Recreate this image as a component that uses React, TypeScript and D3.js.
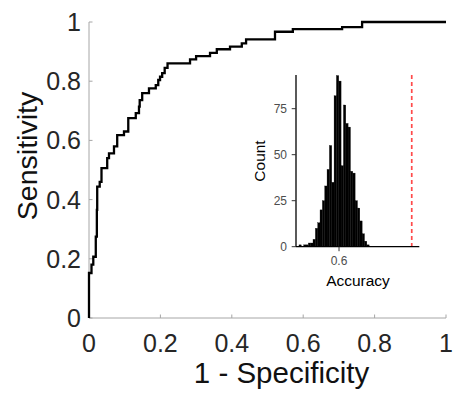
import React from 'react';
import * as d3 from 'd3';

// ROC curve operating points (1 - specificity, sensitivity)
const rocFpr = [0, 0.007, 0.012, 0.019, 0.022, 0.023, 0.030, 0.035, 0.051, 0.056, 0.070, 0.079, 0.098, 0.110, 0.131, 0.140, 0.142, 0.149, 0.168, 0.187, 0.194, 0.199, 0.205, 0.212, 0.220, 0.283, 0.300, 0.339, 0.358, 0.395, 0.428, 0.440, 0.521, 0.571, 0.709, 0.765, 1.0];
const rocTpr = [0, 0.152, 0.18, 0.207, 0.275, 0.365, 0.444, 0.46, 0.506, 0.54, 0.556, 0.58, 0.618, 0.63, 0.675, 0.692, 0.714, 0.736, 0.76, 0.776, 0.787, 0.804, 0.815, 0.827, 0.845, 0.86, 0.874, 0.885, 0.896, 0.908, 0.917, 0.928, 0.941, 0.967, 0.976, 0.983, 1.0];

const mainTicks = [0, 0.2, 0.4, 0.6, 0.8, 1];
const mainTickLabels = ['0', '0.2', '0.4', '0.6', '0.8', '1'];

// Inset histogram (null accuracy distribution)
const histCounts = [1, 0, 1, 1, 2, 2, 4, 10, 13, 20, 25, 33, 42, 55, 35, 82, 93, 90, 44, 77, 67, 65, 41, 40, 25, 21, 14, 7, 3, 1];
const histStart = 0.511;
const histBinWidth = 0.0052;
const observedAccuracy = 0.7616;
const insetXTicks = [0.6];
const insetYTicks = [0, 25, 50, 75];

const FONT = '"Liberation Sans", Arial, Helvetica, sans-serif';

export default function App() {
  const W = 454, H = 395;
  const x = d3.scaleLinear().domain([0, 1]).range([89, 446]);
  const y = d3.scaleLinear().domain([0, 1]).range([318, 22]);

  const line = d3.line<number>()
    .x((_, i) => x(rocFpr[i]))
    .y((_, i) => y(rocTpr[i]))
    .curve(d3.curveStepBefore);
  const rocPath = line(rocFpr) || '';

  const ix = d3.scaleLinear().domain([0.5044, 0.7784]).range([296, 419.3]);
  const iy = d3.scaleLinear().domain([0, 93.3]).range([246.7, 75]);

  const axisColor = '#a6a6a6';
  const tickColor = '#262626';

  return (
    <svg width={W} height={H} style={{ position: 'absolute', left: 0, top: 0, background: '#fff' }} fontFamily={FONT}>
      {/* main axes */}
      <line x1={x(0)} x2={x(0)} y1={y(0)} y2={y(1)} stroke={axisColor} strokeWidth={1} />
      <line x1={x(0)} x2={x(1)} y1={y(0)} y2={y(0)} stroke={axisColor} strokeWidth={1} />
      {mainTicks.map((t, i) => (
        <g key={'yt' + i}>
          <line x1={x(0)} x2={x(0) + 3.5} y1={y(t)} y2={y(t)} stroke={axisColor} strokeWidth={1} />
          <text x={81} y={y(t)} dy="0.36em" textAnchor="end" fontSize={25} fill={tickColor}>{mainTickLabels[i]}</text>
        </g>
      ))}
      {mainTicks.map((t, i) => (
        <g key={'xt' + i}>
          <line x1={x(t)} x2={x(t)} y1={y(0)} y2={y(0) - 3.5} stroke={axisColor} strokeWidth={1} />
          <text x={x(t)} y={352} textAnchor="middle" fontSize={25} fill={tickColor}>{mainTickLabels[i]}</text>
        </g>
      ))}
      <text x={281.5} y={383} textAnchor="middle" fontSize={29.5} fill="#111">1 - Specificity</text>
      <text transform="translate(37,156) rotate(-90)" textAnchor="middle" fontSize={28.5} fill="#111">Sensitivity</text>

      {/* ROC curve */}
      <path d={rocPath} fill="none" stroke="#000" strokeWidth={2.3} strokeLinejoin="miter" />

      {/* inset histogram */}
      {histCounts.map((c, i) => {
        const x0 = ix(histStart + i * histBinWidth);
        const x1 = ix(histStart + (i + 1) * histBinWidth);
        return c > 0 ? (
          <rect key={'b' + i} x={x0} y={iy(c)} width={x1 - x0} height={iy(0) - iy(c)} fill="#000" stroke="#000" strokeWidth={0.3} />
        ) : null;
      })}
      <line x1={ix(observedAccuracy)} x2={ix(observedAccuracy)} y1={iy(93.3)} y2={iy(0)} stroke="#ff4a4a" strokeWidth={1.7} strokeDasharray="4,3" />
      <line x1={296} x2={296} y1={iy(93.3)} y2={iy(0)} stroke="#000" strokeWidth={1.3} />
      <line x1={296} x2={419.3} y1={iy(0)} y2={iy(0)} stroke="#000" strokeWidth={1.3} />
      {insetYTicks.map((t) => (
        <g key={'iyt' + t}>
          <line x1={291.7} x2={296} y1={iy(t)} y2={iy(t)} stroke="#333" strokeWidth={1} />
          <text x={287} y={iy(t)} dy="0.36em" textAnchor="end" fontSize={12} fill="#4d4d4d">{t}</text>
        </g>
      ))}
      {insetXTicks.map((t) => (
        <g key={'ixt' + t}>
          <line x1={ix(t)} x2={ix(t)} y1={iy(0)} y2={iy(0) + 4.5} stroke="#333" strokeWidth={1} />
          <text x={ix(t)} y={265} textAnchor="middle" fontSize={12} fill="#4d4d4d">{t}</text>
        </g>
      ))}
      <text x={358} y={286} textAnchor="middle" fontSize={15.5} fill="#000">Accuracy</text>
      <text transform="translate(265,161) rotate(-90)" textAnchor="middle" fontSize={15.5} fill="#000">Count</text>
    </svg>
  );
}
